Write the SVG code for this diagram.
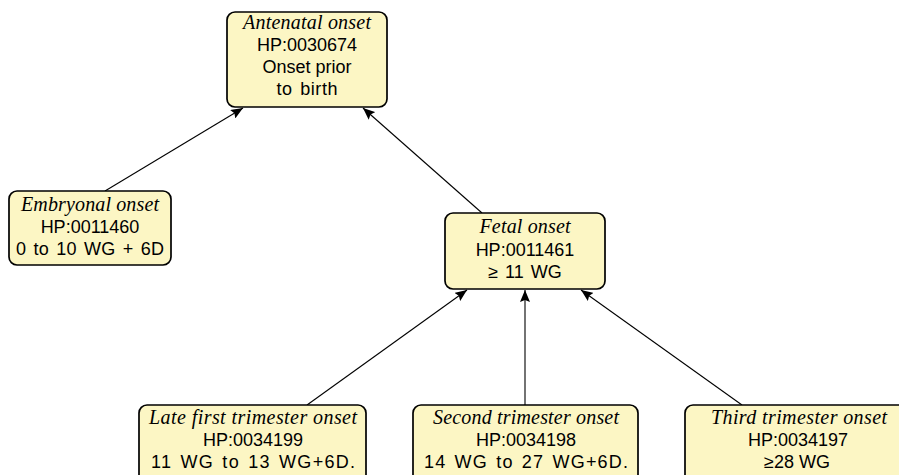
<svg xmlns="http://www.w3.org/2000/svg" width="899" height="475" viewBox="0 0 899 475">
<defs>
<marker id="ah" viewBox="0 0 12 10" refX="12" refY="5" markerWidth="12" markerHeight="10" markerUnits="userSpaceOnUse" orient="auto">
<path d="M0,0 L12,5 L0,10 L2,5 z" fill="#000"/>
</marker>
<style>
.box{fill:#fcf6c4;stroke:#000;stroke-width:1.7}
.t{font-family:"Liberation Serif",serif;font-style:italic;font-size:20px;text-anchor:middle;fill:#000}
.s{font-family:"Liberation Sans",Arial,sans-serif;font-size:18px;text-anchor:middle;fill:#000}
.w{word-spacing:2px}
.e{stroke:#000;stroke-width:1.1;fill:none;marker-end:url(#ah)}
</style>
</defs>
<rect width="899" height="475" fill="#fff"/>
<g id="connectors">
<line class="e" x1="105" y1="191" x2="243" y2="108"/>
<line class="e" x1="482" y1="213" x2="363" y2="108"/>
<line class="e" x1="307" y1="405" x2="467" y2="290"/>
<line class="e" x1="525" y1="405" x2="525" y2="290"/>
<line class="e" x1="742" y1="405" x2="581" y2="290"/>
</g>
<g id="antenatal">
<rect class="box" x="227" y="12" width="160" height="95" rx="8"/>
<text class="t" x="307" y="29" textLength="128" lengthAdjust="spacing">Antenatal onset</text>
<text class="s" x="307" y="51">HP:0030674</text>
<text class="s" x="307" y="73">Onset prior</text>
<text class="s w" x="307" y="95" textLength="61" lengthAdjust="spacing">to birth</text>
</g>
<g id="embryonal">
<rect class="box" x="9" y="191" width="162" height="74" rx="8"/>
<text class="t" x="90" y="211" textLength="138" lengthAdjust="spacing">Embryonal onset</text>
<text class="s" x="90" y="233">HP:0011460</text>
<text class="s w" x="90" y="255" textLength="148" lengthAdjust="spacing">0 to 10 WG + 6D</text>
</g>
<g id="fetal">
<rect class="box" x="445" y="213" width="160" height="76" rx="8"/>
<text class="t" x="525" y="233" textLength="91" lengthAdjust="spacing">Fetal onset</text>
<text class="s" x="525" y="256">HP:0011461</text>
<text class="s w" x="525" y="278">≥ 11 WG</text>
</g>
<g id="late-first">
<rect class="box" x="139" y="405" width="227" height="80" rx="8"/>
<text class="t" x="253" y="424" textLength="208" lengthAdjust="spacing">Late first trimester onset</text>
<text class="s" x="253" y="446">HP:0034199</text>
<text class="s w" x="253" y="468" textLength="204" lengthAdjust="spacing">11 WG to 13 WG+6D.</text>
</g>
<g id="second">
<rect class="box" x="413" y="405" width="225" height="80" rx="8"/>
<text class="t" x="526" y="424" textLength="186" lengthAdjust="spacing">Second trimester onset</text>
<text class="s" x="526" y="446">HP:0034198</text>
<text class="s w" x="526" y="468" textLength="204" lengthAdjust="spacing">14 WG to 27 WG+6D.</text>
</g>
<g id="third">
<rect class="box" x="685" y="405" width="226" height="80" rx="8"/>
<text class="t" x="799" y="424" textLength="176" lengthAdjust="spacing">Third trimester onset</text>
<text class="s" x="798" y="446">HP:0034197</text>
<text class="s" x="797" y="468">≥28 WG</text>
</g>
</svg>
